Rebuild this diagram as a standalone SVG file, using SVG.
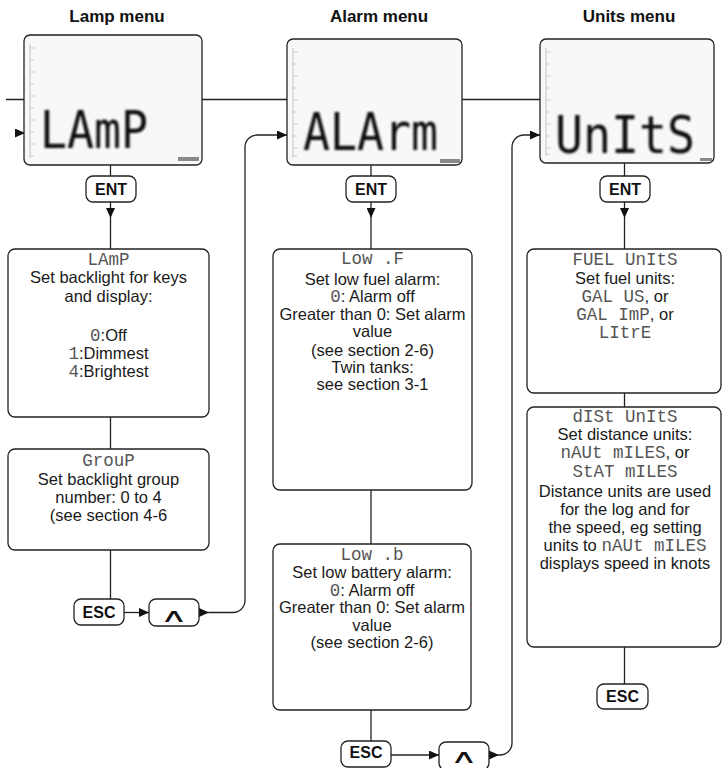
<svg xmlns="http://www.w3.org/2000/svg" width="723" height="768" viewBox="0 0 723 768">
<style>
.bg{fill:#fff}
.title{font-family:"Liberation Sans",Arial,sans-serif;font-weight:bold;font-size:17px;fill:#111;text-anchor:middle}
.box{fill:#fff;stroke:#222;stroke-width:1.3}
.lcd{fill:#f8f8f8;stroke:#222;stroke-width:1.3}
.lcdtxt{font-family:"DejaVu Sans Mono",monospace;font-size:52px;fill:#111}
.tick{stroke:#cccccc;stroke-width:1.2;fill:none}
.mark{fill:#8a8a8a}
.btn{fill:#fff;stroke:#222;stroke-width:1.3}
.btntxt{font-family:"Liberation Sans",Arial,sans-serif;font-weight:bold;font-size:16px;fill:#111;text-anchor:middle}
.caret{font-family:"DejaVu Sans",sans-serif;font-size:19px;fill:#111;text-anchor:middle}
.t{font-family:"Liberation Sans",Arial,sans-serif;font-size:16.5px;fill:#1a1a1a;text-anchor:middle}
.m{font-family:"Liberation Mono","Courier New",monospace;font-size:17.5px;fill:#555}
.c{fill:none;stroke:#222;stroke-width:1.3}
.ca{fill:none;stroke:#222;stroke-width:1.3;marker-end:url(#ah)}
</style>
<defs>
<marker id="ah" viewBox="0 0 10 9" refX="10" refY="4.5" markerWidth="10" markerHeight="9" markerUnits="userSpaceOnUse" orient="auto">
<path d="M0 0L10 4.5L0 9z" fill="#111"/>
</marker>
<filter id="blur" x="-10%" y="-10%" width="120%" height="120%">
<feGaussianBlur stdDeviation="0.8"/>
</filter>
</defs>
<rect class="bg" x="0" y="0" width="723" height="768"/>

<text class="title" x="117" y="22">Lamp menu</text>
<text class="title" x="379" y="22">Alarm menu</text>
<text class="title" x="629" y="22">Units menu</text>

<g id="connectors">
<path class="c" d="M6 99.5H24M202 99.5H287M462 99.5H540"/>
<path class="ca" d="M15 133H25"/>
<path class="c" d="M110.5 165V176"/>
<path class="ca" d="M110.5 202V218"/>
<path class="c" d="M110.5 218V249"/>
<path class="c" d="M110.5 417V449"/>
<path class="c" d="M110.5 550V599"/>
<path class="ca" d="M124 612.5H149"/>
<path class="ca" d="M199 612.5H209"/>
<path class="ca" d="M209 612.5H233A12 12 0 0 0 245 600.5V147A12 12 0 0 1 257 135H287"/>
<path class="c" d="M371 165V176"/>
<path class="ca" d="M371 202V218"/>
<path class="c" d="M371 218V249"/>
<path class="c" d="M371 490V544"/>
<path class="c" d="M371 710V741"/>
<path class="ca" d="M391 755H439"/>
<path class="ca" d="M489 755H499"/>
<path class="ca" d="M499 755H500A12 12 0 0 0 512 743V147A12 12 0 0 1 524 135H540"/>
<path class="c" d="M624.5 163V176"/>
<path class="ca" d="M624.5 202V218"/>
<path class="c" d="M624.5 218V249"/>
<path class="c" d="M624.5 393V407"/>
<path class="c" d="M624.5 647V684"/>
</g>

<g id="lcd-lamp">
<rect class="lcd" x="24" y="35" width="178" height="130" rx="6"/>
<path class="tick" d="M30 44V158M30 48h5M30 60h4M30 72h5M30 84h4M30 96h5M30 108h4M30 120h5M30 132h4M30 144h5M30 156h4"/>
<rect class="mark" x="178" y="157" width="21" height="4"/>
<text class="lcdtxt" x="40" y="148" textLength="108" lengthAdjust="spacingAndGlyphs" filter="url(#blur)">LAmP</text>
</g>
<g id="lcd-alarm">
<rect class="lcd" x="287" y="39" width="175" height="126" rx="6"/>
<path class="tick" d="M293 48V158M293 52h5M293 64h4M293 76h5M293 88h4M293 100h5M293 112h4M293 124h5M293 136h4M293 148h5M293 156h4"/>
<rect class="mark" x="440" y="159" width="20" height="4"/>
<text class="lcdtxt" x="303" y="150" textLength="135" lengthAdjust="spacingAndGlyphs" filter="url(#blur)">ALArm</text>
</g>
<g id="lcd-units">
<rect class="lcd" x="540" y="39" width="174" height="124" rx="6"/>
<path class="tick" d="M546 48V156M546 52h5M546 64h4M546 76h5M546 88h4M546 100h5M546 112h4M546 124h5M546 136h4M546 148h5M546 154h4"/>
<rect class="mark" x="700" y="158" width="12" height="3"/>
<text class="lcdtxt" x="555" y="153" textLength="140" lengthAdjust="spacingAndGlyphs" filter="url(#blur)">UnItS</text>
</g>

<g id="ent-lamp"><rect class="btn" x="86" y="176" width="50" height="26" rx="7"/><text class="btntxt" x="111" y="194.5">ENT</text></g>
<g id="ent-alarm"><rect class="btn" x="346" y="176" width="50" height="26" rx="7"/><text class="btntxt" x="371" y="194.5">ENT</text></g>
<g id="ent-units"><rect class="btn" x="600" y="176" width="50" height="26" rx="7"/><text class="btntxt" x="625" y="194.5">ENT</text></g>

<g id="box-lamp">
<rect class="box" x="8" y="249" width="201" height="168" rx="7"/>
<text class="t" x="108.5" y="265"><tspan class="m">LAmP</tspan></text>
<text class="t" x="108.5" y="283">Set backlight for keys</text>
<text class="t" x="108.5" y="302">and display:</text>
<text class="t" x="108.5" y="340.5"><tspan class="m">0</tspan>:Off</text>
<text class="t" x="108.5" y="358.5"><tspan class="m">1</tspan>:Dimmest</text>
<text class="t" x="108.5" y="376.5"><tspan class="m">4</tspan>:Brightest</text>
</g>
<g id="box-group">
<rect class="box" x="8" y="449" width="201" height="101" rx="7"/>
<text class="t" x="108.5" y="465.5"><tspan class="m">GrouP</tspan></text>
<text class="t" x="108.5" y="485">Set backlight group</text>
<text class="t" x="108.5" y="503">number: 0 to 4</text>
<text class="t" x="108.5" y="520.5">(see section 4-6</text>
</g>
<g id="esc-lamp"><rect class="btn" x="74" y="599" width="50" height="26" rx="7"/><text class="btntxt" x="99" y="618">ESC</text></g>
<g id="up-lamp"><rect class="btn" x="149" y="599" width="50" height="27" rx="7"/><text class="caret" transform="translate(174 622) scale(2 1)">∧</text></g>

<g id="box-lowf">
<rect class="box" x="273" y="249" width="199" height="241" rx="7"/>
<text class="t" x="372.5" y="264"><tspan class="m" xml:space="preserve">Low .F</tspan></text>
<text class="t" x="372.5" y="285">Set low fuel alarm:</text>
<text class="t" x="372.5" y="302"><tspan class="m">0</tspan>: Alarm off</text>
<text class="t" x="372.5" y="320">Greater than 0: Set alarm</text>
<text class="t" x="372.5" y="337">value</text>
<text class="t" x="372.5" y="355.5">(see section 2-6)</text>
<text class="t" x="372.5" y="372.5">Twin tanks:</text>
<text class="t" x="372.5" y="390">see section 3-1</text>
</g>
<g id="box-lowb">
<rect class="box" x="273" y="544" width="198" height="166" rx="7"/>
<text class="t" x="372" y="560"><tspan class="m" xml:space="preserve">Low .b</tspan></text>
<text class="t" x="372" y="578">Set low battery alarm:</text>
<text class="t" x="372" y="596"><tspan class="m">0</tspan>: Alarm off</text>
<text class="t" x="372" y="613">Greater than 0: Set alarm</text>
<text class="t" x="372" y="631">value</text>
<text class="t" x="372" y="648">(see section 2-6)</text>
</g>
<g id="esc-alarm"><rect class="btn" x="341" y="741" width="50" height="26" rx="7"/><text class="btntxt" x="366" y="758">ESC</text></g>
<g id="up-alarm"><rect class="btn" x="439" y="742" width="50" height="28" rx="7"/><text class="caret" transform="translate(464 763) scale(2 1)">∧</text></g>

<g id="box-fuel">
<rect class="box" x="527" y="249" width="194" height="144" rx="7"/>
<text class="t" x="625" y="265"><tspan class="m">FUEL UnItS</tspan></text>
<text class="t" x="625" y="284">Set fuel units:</text>
<text class="t" x="625" y="301.5"><tspan class="m">GAL US</tspan>, or</text>
<text class="t" x="625" y="320"><tspan class="m">GAL ImP</tspan>, or</text>
<text class="t" x="625" y="338"><tspan class="m">LItrE</tspan></text>
</g>
<g id="box-dist">
<rect class="box" x="527" y="407" width="194" height="240" rx="7"/>
<text class="t" x="625" y="422"><tspan class="m">dISt UnItS</tspan></text>
<text class="t" x="625" y="440">Set distance units:</text>
<text class="t" x="625" y="458"><tspan class="m">nAUt mILES</tspan>, or</text>
<text class="t" x="625" y="477"><tspan class="m">StAT mILES</tspan></text>
<text class="t" x="625" y="497">Distance units are used</text>
<text class="t" x="625" y="515">for the log and for</text>
<text class="t" x="625" y="533">the speed, eg setting</text>
<text class="t" x="625" y="551">units to <tspan class="m">nAUt mILES</tspan></text>
<text class="t" x="625" y="569">displays speed in knots</text>
</g>
<g id="esc-units"><rect class="btn" x="597" y="684" width="51" height="25" rx="7"/><text class="btntxt" x="622.5" y="702">ESC</text></g>
</svg>
